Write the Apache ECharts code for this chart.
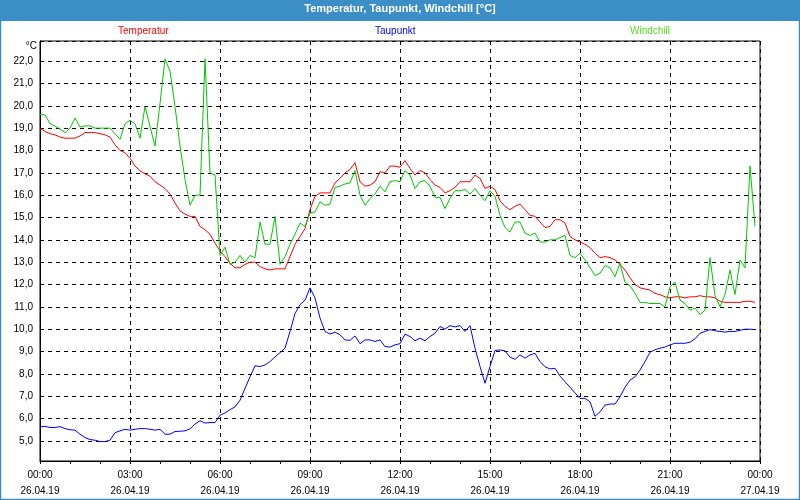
<!DOCTYPE html>
<html><head><meta charset="utf-8">
<script src="https://cdn.jsdelivr.net/npm/echarts@6/dist/echarts.min.js"></script>
<style>html,body{margin:0;padding:0;background:#fff}#c{width:800px;height:500px}</style>
</head><body><div id="c"></div>
<script>
// 10-minute samples, 26.04.19 00:00 .. 23:50
const STEP_MIN = 10;
const temperatur = [
19.0,18.85,18.75,18.7,18.6,18.55,18.55,18.55,18.65,18.8,
18.8,18.8,18.75,18.7,18.6,18.25,18.0,17.9,17.65,17.3,
17.1,16.95,16.85,16.6,16.45,16.3,16.05,15.65,15.3,15.15,
15.05,15.05,14.6,14.45,14.25,13.85,13.5,13.25,12.95,12.75,
12.75,12.9,13.0,13.0,12.8,12.7,12.65,12.7,12.7,12.7,
13.25,13.8,14.15,14.5,15.35,15.95,16.1,16.1,16.1,16.55,
16.75,17.0,17.15,17.45,16.6,16.4,16.45,16.6,17.05,17.0,
17.3,17.3,17.25,17.55,17.2,16.9,17.1,17.0,16.7,16.45,
16.35,16.1,16.2,16.35,16.6,16.6,16.6,16.9,16.75,16.3,
16.4,16.25,15.75,15.5,15.35,15.5,15.6,15.35,15.1,15.05,
14.8,14.55,14.6,14.9,14.9,14.75,14.15,14.0,13.9,13.8,
13.65,13.4,13.2,13.25,13.2,13.1,12.9,12.65,12.3,12.0,
11.85,11.8,11.75,11.6,11.55,11.45,11.4,11.45,11.45,11.4,
11.45,11.45,11.5,11.45,11.45,11.4,11.25,11.2,11.2,11.2,
11.2,11.25,11.25,11.2
];
const taupunkt = [
5.63,5.65,5.6,5.6,5.64,5.55,5.5,5.48,5.3,5.15,
5.06,5.03,4.97,4.97,5.03,5.37,5.45,5.52,5.48,5.52,
5.55,5.55,5.52,5.48,5.52,5.3,5.3,5.42,5.43,5.45,
5.54,5.75,5.9,5.8,5.82,5.82,6.15,6.25,6.4,6.52,
6.82,7.35,7.87,8.36,8.33,8.4,8.55,8.76,8.95,9.15,
9.9,10.7,11.1,11.3,11.85,11.4,10.5,9.9,9.78,9.87,
9.75,9.52,9.5,9.7,9.35,9.52,9.52,9.45,9.52,9.22,
9.2,9.3,9.35,9.78,9.67,9.48,9.6,9.48,9.67,9.82,
10.12,10.0,10.16,10.1,10.16,9.9,10.16,9.15,8.33,7.58,
8.33,9.05,9.07,9.03,8.75,8.65,8.85,8.7,8.85,8.92,
8.55,8.32,8.22,8.25,7.9,7.65,7.4,7.15,6.9,6.9,
6.75,6.1,6.3,6.6,6.65,6.65,6.97,7.4,7.72,7.87,
8.17,8.55,8.97,9.08,9.15,9.2,9.3,9.37,9.37,9.37,
9.42,9.57,9.82,9.9,9.98,9.93,9.9,9.87,9.9,9.9,
9.95,10.0,10.0,9.98
];
const windchill = [
19.6,19.6,19.2,19.1,18.95,18.8,19.0,19.45,19.05,19.1,
19.1,19.0,19.0,19.0,19.0,18.75,18.5,19.2,19.35,19.2,
18.55,19.97,19.07,18.2,20.1,22.1,21.55,19.97,18.2,16.7,
15.55,16.0,16.0,22.1,17.0,16.9,13.3,13.67,12.9,13.0,
13.3,13.0,13.3,13.2,14.8,13.8,13.8,15.05,12.9,13.25,
13.8,14.25,14.75,14.6,15.2,15.25,15.7,15.55,15.6,16.35,
16.4,16.5,16.55,17.1,16.0,15.55,15.85,16.05,16.4,16.15,
16.6,16.65,16.6,17.1,16.9,16.3,16.6,16.65,16.4,15.9,
15.9,15.4,15.85,16.2,16.2,16.25,16.05,16.3,16.0,15.75,
16.2,15.95,15.1,14.55,14.35,14.8,14.8,14.3,14.2,14.3,
13.9,13.9,14.0,14.0,14.1,14.2,13.3,13.2,13.4,13.1,
12.75,12.4,12.5,12.85,12.75,12.35,12.95,12.1,11.95,11.6,
11.2,11.2,11.15,11.15,11.15,11.0,11.9,12.1,11.3,11.15,
10.85,10.95,10.65,10.85,13.2,11.5,11.0,11.55,12.65,11.55,
13.1,12.75,17.3,14.6
];
const timeLabels = ['00:00','03:00','06:00','09:00','12:00','15:00','18:00','21:00','00:00'];
const dateLabels = ['26.04.19','26.04.19','26.04.19','26.04.19','26.04.19','26.04.19','26.04.19','26.04.19','27.04.19'];
const seriesNames = ['Temperatur','Taupunkt','Windchill'];

const toPairs = arr => arr.map((v, i) => [i * STEP_MIN, v]);
const FONT = 'Liberation Sans';
const BLUE_FRAME = '#3b8ec6';

const chart = echarts.init(document.getElementById('c'), null, {renderer: 'canvas'});
chart.setOption({
  animation: false,
  backgroundColor: '#ffffff',
  graphic: [
    {type: 'rect', z: 0, shape: {x: 0, y: 0, width: 800, height: 21}, style: {fill: BLUE_FRAME}},
    {type: 'rect', z: 0, shape: {x: 0.5, y: 0.5, width: 799, height: 499}, style: {fill: null, stroke: BLUE_FRAME, lineWidth: 1.5}}
  ],
  title: {
    text: 'Temperatur, Taupunkt, Windchill [°C]',
    left: 'center', top: 3, padding: 0, z: 10,
    textStyle: {color: '#ffffff', fontSize: 11, fontWeight: 'bold', fontFamily: FONT}
  },
  legend: [
    {left: 113, top: 24, padding: 0, itemWidth: 0, itemHeight: 14, selectedMode: false,
     data: [{name: seriesNames[0], icon: 'none', textStyle: {color: '#ff0000'}}],
     textStyle: {fontSize: 10, fontFamily: FONT}},
    {left: 370, top: 24, padding: 0, itemWidth: 0, itemHeight: 14, selectedMode: false,
     data: [{name: seriesNames[1], icon: 'none', textStyle: {color: '#0000ee'}}],
     textStyle: {fontSize: 10, fontFamily: FONT}},
    {left: 625, top: 24, padding: 0, itemWidth: 0, itemHeight: 14, selectedMode: false,
     data: [{name: seriesNames[2], icon: 'none', textStyle: {color: '#55dd22'}}],
     textStyle: {fontSize: 10, fontFamily: FONT}}
  ],
  grid: {left: 40, right: 40, top: 41, bottom: 39, show: true, borderColor: '#000', borderWidth: 1,
         containLabel: false, outerBoundsMode: 'none'},
  xAxis: {
    type: 'value', min: 0, max: 1440, interval: 180,
    axisLine: {show: true, onZero: false, lineStyle: {color: '#000', width: 1}},
    axisTick: {show: true, inside: false, length: 3, lineStyle: {color: '#000'}},
    minorTick: {show: true, splitNumber: 3, length: 3, lineStyle: {color: '#000'}},
    splitLine: {show: true, lineStyle: {color: '#000', type: [4, 4], width: 1}},
    axisLabel: {
      margin: 6, fontSize: 10, fontFamily: FONT, color: '#000', lineHeight: 16,
      showMinLabel: true, showMaxLabel: true,
      formatter: v => { const k = Math.round(v / 180); return timeLabels[k] + '\n' + dateLabels[k]; }
    }
  },
  yAxis: {
    type: 'value', min: 4.1, max: 22.9, splitNumber: 19,
    name: '°C', nameLocation: 'end', nameGap: -10,
    nameTextStyle: {align: 'right', padding: [0, 3, 0, 0], fontSize: 10, fontFamily: FONT, color: '#000'},
    axisLine: {show: true, lineStyle: {color: '#000', width: 1}},
    axisTick: {show: false},
    splitLine: {show: true, lineStyle: {color: '#000', type: [4, 4], width: 1}},
    axisLabel: {
      margin: 7, fontSize: 10, fontFamily: FONT, color: '#000',
      formatter: v => (Math.abs(v - Math.round(v)) < 1e-6 ? v.toFixed(1).replace('.', ',') : '')
    }
  },
  series: [
    {name: seriesNames[0], type: 'line', data: toPairs(temperatur), showSymbol: false,
     lineStyle: {color: '#ff0000', width: 1}, itemStyle: {color: '#ff0000'}},
    {name: seriesNames[1], type: 'line', data: toPairs(taupunkt), showSymbol: false,
     lineStyle: {color: '#0000ff', width: 1}, itemStyle: {color: '#0000ff'}},
    {name: seriesNames[2], type: 'line', data: toPairs(windchill), showSymbol: false,
     lineStyle: {color: '#00c800', width: 1}, itemStyle: {color: '#00c800'}}
  ]
});
</script></body></html>
